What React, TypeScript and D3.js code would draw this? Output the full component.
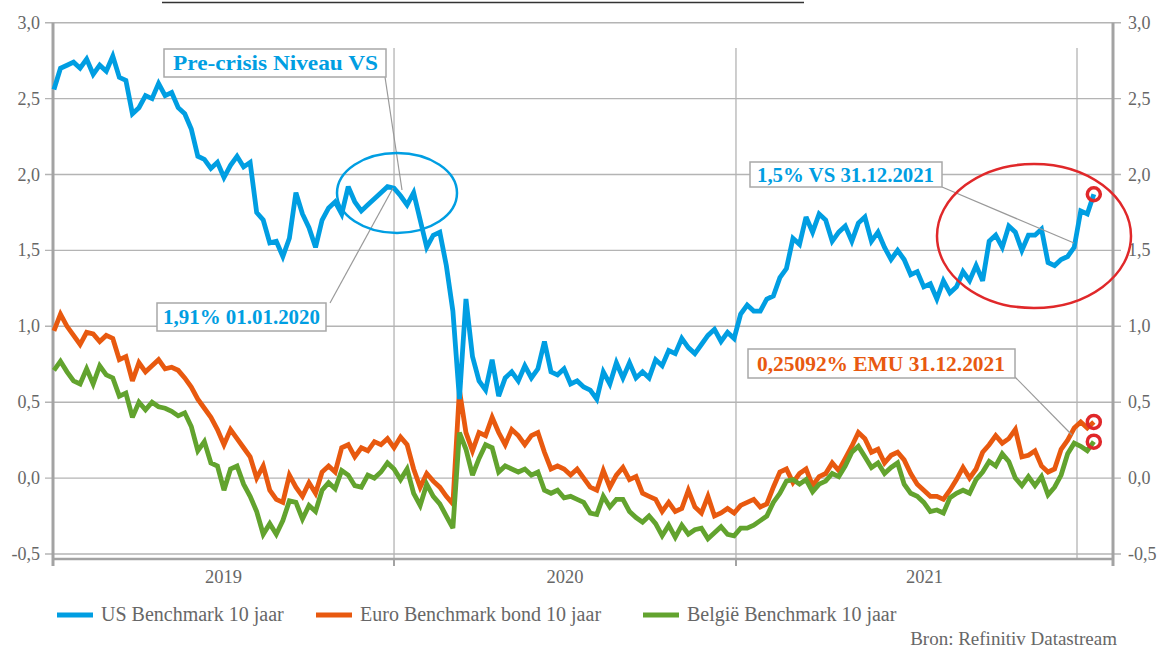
import React from 'react'
import * as d3 from 'd3'

// weekly readings, first week starts 2 Jan 2019
const startDate = new Date(2019, 0, 2)

const usBenchmark = [
  2.56, 2.70, 2.72, 2.74, 2.70, 2.76, 2.66, 2.72, 2.68, 2.78,
  2.64, 2.62, 2.40, 2.44, 2.52, 2.50, 2.60, 2.52, 2.54, 2.44,
  2.40, 2.30, 2.12, 2.10, 2.04, 2.08, 1.98, 2.06, 2.12, 2.05,
  2.08, 1.75, 1.70, 1.55, 1.56, 1.46, 1.58, 1.88, 1.74, 1.65,
  1.52, 1.70, 1.78, 1.82, 1.74, 1.92, 1.82, 1.76, 1.80, 1.84,
  1.88, 1.92, 1.91, 1.86, 1.80, 1.88, 1.70, 1.52, 1.60, 1.62,
  1.40, 1.10, 0.52, 1.18, 0.80, 0.64, 0.58, 0.78, 0.54, 0.66,
  0.70, 0.64, 0.74, 0.66, 0.72, 0.90, 0.70, 0.68, 0.72, 0.62,
  0.64, 0.60, 0.58, 0.52, 0.70, 0.62, 0.76, 0.66, 0.76, 0.66,
  0.70, 0.66, 0.78, 0.74, 0.84, 0.82, 0.92, 0.86, 0.82, 0.88,
  0.94, 0.98, 0.90, 0.96, 0.92, 1.08, 1.14, 1.10, 1.10, 1.18,
  1.20, 1.32, 1.38, 1.58, 1.54, 1.72, 1.62, 1.74, 1.70, 1.56,
  1.62, 1.66, 1.56, 1.68, 1.72, 1.56, 1.62, 1.52, 1.44, 1.50,
  1.44, 1.34, 1.36, 1.26, 1.28, 1.18, 1.30, 1.22, 1.26, 1.36,
  1.30, 1.40, 1.30, 1.56, 1.60, 1.52, 1.66, 1.62, 1.50, 1.60,
  1.60, 1.64, 1.42, 1.40, 1.44, 1.46, 1.52, 1.76, 1.74, 1.87,
]

const euroBenchmark = [
  0.97, 1.08, 1.00, 0.94, 0.88, 0.96, 0.95, 0.90, 0.94, 0.92,
  0.78, 0.80, 0.64, 0.76, 0.70, 0.74, 0.78, 0.72, 0.73, 0.71,
  0.66, 0.60, 0.52, 0.46, 0.40, 0.32, 0.22, 0.32, 0.26, 0.20,
  0.14, 0.00, 0.08, -0.08, -0.14, -0.16, 0.02, -0.06, -0.12, -0.03,
  -0.10, 0.04, 0.08, 0.04, 0.20, 0.22, 0.14, 0.20, 0.18, 0.24,
  0.22, 0.26, 0.20, 0.27, 0.22, 0.06, -0.06, 0.03, -0.02, -0.06,
  -0.12, -0.17, 0.58, 0.30, 0.18, 0.30, 0.28, 0.40, 0.30, 0.22,
  0.32, 0.28, 0.22, 0.28, 0.30, 0.17, 0.06, 0.08, 0.06, 0.02,
  0.06, 0.00, -0.06, -0.08, 0.05, -0.06, 0.02, 0.07, -0.01, 0.01,
  -0.10, -0.12, -0.14, -0.22, -0.16, -0.22, -0.20, -0.08, -0.19, -0.23,
  -0.12, -0.25, -0.23, -0.20, -0.23, -0.18, -0.16, -0.14, -0.19, -0.17,
  -0.06, 0.04, 0.06, -0.03, 0.03, 0.06, -0.05, 0.01, 0.03, 0.10,
  0.05, 0.13, 0.21, 0.30, 0.26, 0.17, 0.19, 0.10, 0.15, 0.17,
  0.12, 0.03, -0.04, -0.08, -0.12, -0.12, -0.14, -0.08, -0.01, 0.07,
  0.00, 0.06, 0.17, 0.22, 0.28, 0.23, 0.26, 0.32, 0.14, 0.15,
  0.18, 0.08, 0.04, 0.06, 0.19, 0.25, 0.33, 0.37, 0.33, 0.37,
]

const belgieBenchmark = [
  0.71, 0.77, 0.70, 0.64, 0.62, 0.72, 0.62, 0.74, 0.68, 0.66,
  0.54, 0.56, 0.40, 0.50, 0.45, 0.50, 0.47, 0.46, 0.44, 0.41,
  0.43, 0.34, 0.18, 0.24, 0.10, 0.08, -0.08, 0.06, 0.08, -0.04,
  -0.12, -0.22, -0.37, -0.30, -0.37, -0.28, -0.15, -0.16, -0.27, -0.18,
  -0.22, -0.08, -0.03, -0.07, 0.05, 0.02, -0.05, -0.06, 0.02, 0.00,
  0.04, 0.10, 0.06, -0.01, 0.06, -0.10, -0.18, -0.04, -0.12, -0.17,
  -0.25, -0.33, 0.30, 0.19, 0.02, 0.13, 0.22, 0.20, 0.04, 0.08,
  0.06, 0.04, 0.06, 0.02, 0.04, -0.08, -0.10, -0.08, -0.13, -0.12,
  -0.14, -0.16, -0.23, -0.24, -0.12, -0.19, -0.14, -0.14, -0.22, -0.26,
  -0.29, -0.25, -0.30, -0.38, -0.31, -0.39, -0.31, -0.37, -0.34, -0.33,
  -0.40, -0.36, -0.32, -0.37, -0.38, -0.33, -0.33, -0.31, -0.28, -0.25,
  -0.16, -0.10, -0.02, -0.01, -0.04, -0.01, -0.09, -0.04, -0.02, 0.03,
  0.01, 0.08, 0.17, 0.21, 0.14, 0.07, 0.10, 0.03, 0.07, 0.10,
  -0.04, -0.10, -0.12, -0.16, -0.22, -0.21, -0.23, -0.13, -0.10, -0.08,
  -0.10, -0.01, 0.04, 0.11, 0.08, 0.16, 0.11, 0.00, -0.05, 0.01,
  -0.05, 0.01, -0.11, -0.06, 0.02, 0.16, 0.23, 0.21, 0.18, 0.24,
]

const yTicks = [-0.5, 0, 0.5, 1, 1.5, 2, 2.5, 3]
const years = ['2019', '2020', '2021']
const seriesNames = ['US Benchmark 10 jaar', 'Euro Benchmark bond 10 jaar', 'België Benchmark 10 jaar']

const BLUE = '#009ee2'
const ORANGE = '#e8590f'
const GREEN = '#62a32e'
const RED = '#e0282a'
const AXIS = '#a3a3a3'
const GRID = '#b4b4b4'
const TEXT = '#676767'
const SERIF = '"Liberation Serif", "DejaVu Serif", serif'

const W = 1165
const H = 650
const left = 53
const right = 1113

const App = () => {
  const x = d3.scaleTime()
    .domain([new Date(2019, 0, 1), new Date(2022, 0, 1)])
    .range([left, 1077])
  const y = d3.scaleLinear().domain([-0.5, 3]).range([554, 22.7])
  const bottom = 559

  const dates = usBenchmark.map((_, i) => d3.timeDay.offset(startDate, i * 7))
  const line = d3.line<number>()
    .x((_, i) => x(dates[i]))
    .y(d => y(d))

  const fmt = (v: number) => d3.format('.1f')(v).replace('.', ',').replace('−', '-')

  const yearStarts = years.map(yr => x(new Date(+yr, 0, 1)))
  const yearEnds = yearStarts.map((s, i) => (i < years.length - 1 ? yearStarts[i + 1] : right))
  const gridX = [...yearStarts.slice(1), x(new Date(2022, 0, 1))]

  const last = usBenchmark.length - 1
  const lastX = x(dates[last])

  const legend = [
    { name: seriesNames[0], color: BLUE, x: 57 },
    { name: seriesNames[1], color: ORANGE, x: 316 },
    { name: seriesNames[2], color: GREEN, x: 643 },
  ]

  const boxText = { fontFamily: SERIF, fontWeight: 700 as const }

  return (
    <svg width={W} height={H} style={{ position: 'absolute', left: 0, top: 0, background: '#fff' }}>
      {/* cut-off title underline */}
      <line x1={162} x2={804} y1={2.5} y2={2.5} stroke="#333" strokeWidth={1.5} />

      {/* horizontal grid */}
      {yTicks.map(t => (
        <line key={t} x1={left - 8} x2={right + 8} y1={y(t)} y2={y(t)} stroke={GRID} strokeWidth={1.4} />
      ))}
      {/* vertical year grid */}
      {gridX.map(gx => (
        <line key={gx} x1={gx} x2={gx} y1={48} y2={bottom} stroke={GRID} strokeWidth={1.3} />
      ))}

      {/* axes */}
      <line x1={left} x2={left} y1={y(3)} y2={bottom + 7} stroke={AXIS} strokeWidth={3} />
      <line x1={right} x2={right} y1={y(3)} y2={bottom + 7} stroke={AXIS} strokeWidth={3} />
      <line x1={left} x2={right} y1={bottom} y2={bottom} stroke={AXIS} strokeWidth={2.5} />
      {yearStarts.slice(1).map(t => (
        <line key={t} x1={t} x2={t} y1={bottom} y2={bottom + 7} stroke={AXIS} strokeWidth={2} />
      ))}

      {yTicks.map(t => (
        <g key={'l' + t} fontFamily={SERIF} fontSize={18} fill={TEXT}>
          <text x={40} y={y(t) + 6} textAnchor="end">{fmt(t)}</text>
          <text x={1128} y={y(t) + 6} textAnchor="start">{fmt(t)}</text>
        </g>
      ))}
      {years.map((yr, i) => (
        <text key={yr} x={(yearStarts[i] + yearEnds[i]) / 2} y={583} textAnchor="middle"
          fontFamily={SERIF} fontSize={18.5} fill={TEXT}>{yr}</text>
      ))}

      {/* series */}
      <g fill="none" strokeWidth={4.8} strokeLinejoin="miter" strokeMiterlimit={3}>
        <path d={line(euroBenchmark) ?? ''} stroke={ORANGE} />
        <path d={line(belgieBenchmark) ?? ''} stroke={GREEN} />
        <path d={line(usBenchmark) ?? ''} stroke={BLUE} />
      </g>

      {/* annotations */}
      <g stroke="#999" strokeWidth={1.2}>
        <line x1={385} y1={77} x2={402} y2={190} />
        <line x1={330} y1={303} x2={393} y2={188} />
        <line x1={942} y1={187} x2={1074} y2={243} />
        <line x1={1015} y1={377} x2={1072} y2={435} />
      </g>
      <ellipse cx={397} cy={193} rx={60} ry={40} fill="none" stroke={BLUE} strokeWidth={2.5} />
      <ellipse cx={1034} cy={236} rx={97} ry={72} fill="none" stroke={RED} strokeWidth={2.5} />
      <circle cx={lastX} cy={y(usBenchmark[last])} r={6.5} fill="none" stroke={RED} strokeWidth={3.5} />
      <circle cx={lastX} cy={y(euroBenchmark[last])} r={6.5} fill="none" stroke={RED} strokeWidth={3.5} />
      <circle cx={lastX} cy={y(belgieBenchmark[last])} r={6.5} fill="none" stroke={RED} strokeWidth={3.5} />

      <g fill="#fff" stroke="#a8a8a8" strokeWidth={1.5}>
        <rect x={164} y={49} width={222} height={28} />
        <rect x={157} y={303} width={169} height={28} />
        <rect x={750} y={162} width={192} height={25} />
        <rect x={748} y={349} width={267} height={29} />
      </g>
      <g {...boxText} fontSize={22} fill={BLUE}>
        <text x={173} y={70} textLength={205} lengthAdjust="spacingAndGlyphs">Pre-crisis Niveau VS</text>
      </g>
      <g {...boxText} fontSize={20} fill={BLUE}>
        <text x={163} y={324} textLength={157} lengthAdjust="spacingAndGlyphs">1,91% 01.01.2020</text>
        <text x={757} y={182} textLength={177} lengthAdjust="spacingAndGlyphs">1,5% VS 31.12.2021</text>
      </g>
      <text {...boxText} fontSize={20} fill={ORANGE} x={757} y={371} textLength={248} lengthAdjust="spacingAndGlyphs">
        0,25092% EMU 31.12.2021
      </text>

      {/* legend */}
      {legend.map(l => (
        <g key={l.name}>
          <line x1={l.x} x2={l.x + 36} y1={615} y2={615} stroke={l.color} strokeWidth={5} />
          <text x={l.x + 44} y={621} fontFamily={SERIF} fontSize={20} fill={TEXT}>{l.name}</text>
        </g>
      ))}
      <text x={1117} y={645} textAnchor="end" fontFamily={SERIF} fontSize={19} fill={TEXT}>
        Bron: Refinitiv Datastream
      </text>
    </svg>
  )
}

export default App
